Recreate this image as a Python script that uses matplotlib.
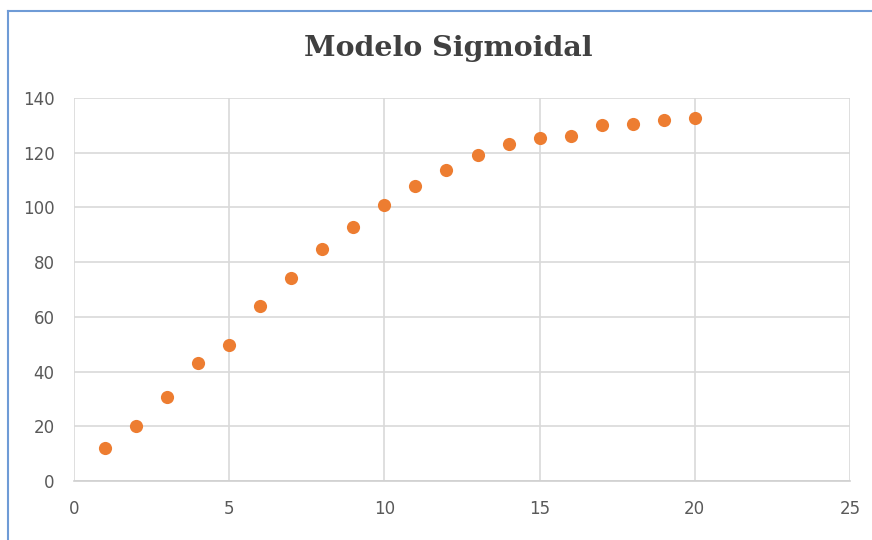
import matplotlib
matplotlib.use('Agg')
import matplotlib.pyplot as plt
from matplotlib.lines import Line2D

x_vals = [1, 2, 3, 4, 5, 6, 7, 8, 9, 10, 11, 12, 13, 14, 15, 16, 17, 18, 19, 20]
y_vals = [12.1, 20.1, 30.7, 43.1, 49.7, 64.0, 74.2, 84.8, 92.8, 100.9,
          107.8, 113.7, 119.2, 123.2, 125.4, 126.2, 130.1, 130.5, 131.9, 132.7]
x_ticks = [0, 5, 10, 15, 20, 25]
y_ticks = [0, 20, 40, 60, 80, 100, 120, 140]

W, H = 872, 540
fig = plt.figure(figsize=(W / 100, H / 100), dpi=100)
ax = fig.add_axes([74 / W, 1 - 481 / H, (850 - 74) / W, (481 - 98) / H])

ax.scatter(x_vals, y_vals, s=90, color='#ED7D31', zorder=3, linewidths=0)

ax.set_xlim(0, 25)
ax.set_ylim(0, 140)
ax.set_xticks(x_ticks)
ax.set_yticks(y_ticks)
ax.grid(True, color='#d9d9d9', linewidth=1.2)
ax.set_axisbelow(True)
for side in ['top', 'right', 'left']:
    ax.spines[side].set_visible(False)
ax.spines['bottom'].set_color('#d0d0d0')
ax.spines['bottom'].set_linewidth(1.2)
ax.tick_params(length=0, labelsize=12, labelcolor='#595959')
ax.tick_params(axis='y', pad=14)
ax.tick_params(axis='x', pad=14)

fig.text(448 / W, 1 - 49 / H, 'Modelo Sigmoidal', ha='center', va='center',
         fontsize=20.5, fontweight='bold', family='DejaVu Serif', color='#404040')

# blue frame round the chart
fig.add_artist(Line2D([8 / W, 8 / W], [0, 1 - 11 / H], color='#6f9bd6', linewidth=1.5))
fig.add_artist(Line2D([8 / W, 1], [1 - 11 / H, 1 - 11 / H], color='#6f9bd6', linewidth=1.5))

fig.savefig('out.png', dpi=100)
